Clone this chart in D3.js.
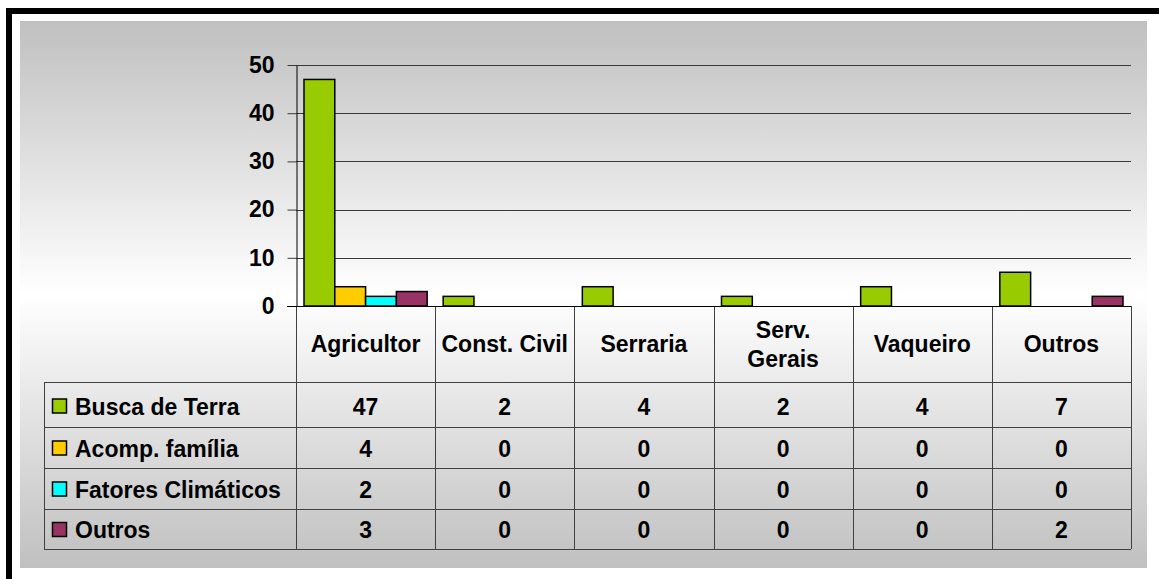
<!DOCTYPE html>
<html>
<head>
<meta charset="utf-8">
<script src="https://cdn.jsdelivr.net/npm/d3@7"></script>
<style>
  html, body { margin: 0; padding: 0; background: #fff; }
  svg text { font-family: "Liberation Sans", Arial, sans-serif; font-weight: bold; fill: #000; }
</style>
</head>
<body>
<div id="chart"></div>
<script>
// DATA ######################################################
const categories = ["Agricultor", "Const. Civil", "Serraria", "Serv.\nGerais", "Vaqueiro", "Outros"];
const seriesNames = ["Busca de Terra", "Acomp. família", "Fatores Climáticos", "Outros"];
const buscaTerra   = [47, 2, 4, 2, 4, 7];
const acompFamilia = [4, 0, 0, 0, 0, 0];
const fatoresClim  = [2, 0, 0, 0, 0, 0];
const outros       = [3, 0, 0, 0, 0, 2];
const seriesValues = [buscaTerra, acompFamilia, fatoresClim, outros];
const seriesColors = ["#99cc00", "#ffcc00", "#00ffff", "#993366"];
const yTicks = [0, 10, 20, 30, 40, 50];

// LAYOUT ####################################################
const width = 1159, height = 579;
const plotLeft = 296, plotRight = 1131;
const plotTop = 65, plotBottom = 306;
const tableLeft = 44;
const rowLines = [382, 427, 468, 509, 549];   // header bottom + row bottoms
const lineColor = "#404040";

const svg = d3.select("#chart").append("svg")
    .attr("width", width)
    .attr("height", height);

// background gradient
const defs = svg.append("defs");
const grad = defs.append("linearGradient")
    .attr("id", "bg")
    .attr("x1", 0).attr("y1", 0).attr("x2", 0).attr("y2", 1);
grad.append("stop").attr("offset", "0%").attr("stop-color", "#c0c0c0");
grad.append("stop").attr("offset", "50%").attr("stop-color", "#ffffff");
grad.append("stop").attr("offset", "100%").attr("stop-color", "#c0c0c0");

svg.append("rect")
    .attr("x", 20).attr("y", 21)
    .attr("width", 1127).attr("height", 547)
    .attr("fill", "url(#bg)");

// frame (top + left thick black)
svg.append("rect").attr("x", 6).attr("y", 8).attr("width", width - 6).attr("height", 6).attr("fill", "#000");
svg.append("rect").attr("x", 6).attr("y", 8).attr("width", 6).attr("height", height - 8).attr("fill", "#000");

// SCALES ====================================================
const x = d3.scaleBand()
    .domain(categories)
    .range([plotLeft, plotRight])
    .padding(0);

const xInner = d3.scaleBand()
    .domain(d3.range(seriesNames.length))
    .range([8, x.bandwidth() - 8])
    .padding(0);

const y = d3.scaleLinear()
    .domain([0, 50])
    .range([plotBottom, plotTop]);

// GRIDLINES -------------------------------------------------
svg.append("g")
  .selectAll("line")
  .data(yTicks.filter(d => d > 0))
  .join("line")
    .attr("x1", plotLeft).attr("x2", plotRight)
    .attr("y1", d => Math.round(y(d)) + 0.5)
    .attr("y2", d => Math.round(y(d)) + 0.5)
    .attr("stroke", "#3a3a3a")
    .attr("stroke-width", 1);

// Y AXIS ----------------------------------------------------
const yAxis = svg.append("g")
    .attr("transform", `translate(${plotLeft + 0.5},0)`)
    .call(d3.axisLeft(y).tickValues(yTicks).tickSize(9).tickSizeOuter(0).tickPadding(13));
yAxis.select(".domain").attr("stroke", "#000");
yAxis.selectAll(".tick line").attr("stroke", "#3a3a3a");
yAxis.selectAll(".tick text")
    .style("font-size", "23px")
    .attr("fill", "#000");

// BARS ======================================================
const groups = svg.append("g")
  .selectAll("g")
  .data(categories)
  .join("g")
    .attr("transform", d => `translate(${x(d)},0)`);

groups.selectAll("rect")
  .data((d, ci) => seriesValues.map((vals, si) => ({ si, v: vals[ci] })))
  .join("rect")
    .filter(d => d.v > 0)
    .attr("x", d => xInner(d.si))
    .attr("y", d => y(d.v))
    .attr("width", xInner.bandwidth())
    .attr("height", d => y(0) - y(d.v))
    .attr("fill", d => seriesColors[d.si])
    .attr("stroke", "#000")
    .attr("stroke-width", 1.5);

// DATA TABLE ================================================
const table = svg.append("g");

// row lines
table.selectAll("line.row")
  .data(rowLines)
  .join("line")
    .attr("class", "row")
    .attr("x1", (d, i) => i === 0 ? tableLeft : tableLeft)
    .attr("x2", plotRight)
    .attr("y1", d => d + 0.5).attr("y2", d => d + 0.5)
    .attr("stroke", lineColor);

// column lines
const colEdges = categories.map(c => x(c)).concat([plotRight]);
table.selectAll("line.col")
  .data(colEdges)
  .join("line")
    .attr("class", "col")
    .attr("x1", d => Math.round(d) + 0.5).attr("x2", d => Math.round(d) + 0.5)
    .attr("y1", plotBottom).attr("y2", rowLines[rowLines.length - 1])
    .attr("stroke", lineColor);

// left edge of legend column
table.append("line")
    .attr("x1", tableLeft + 0.5).attr("x2", tableLeft + 0.5)
    .attr("y1", rowLines[0]).attr("y2", rowLines[rowLines.length - 1])
    .attr("stroke", lineColor);

// baseline (category axis)
svg.append("line")
    .attr("x1", plotLeft - 9).attr("x2", plotRight)
    .attr("y1", y(0) + 0.5).attr("y2", y(0) + 0.5)
    .attr("stroke", "#000");

// category labels
const headerMid = (plotBottom + rowLines[0]) / 2;
svg.append("g")
  .selectAll("text")
  .data(categories)
  .join("text")
    .attr("text-anchor", "middle")
    .attr("x", d => x(d) + x.bandwidth() / 2)
    .style("font-size", "23px")
    .each(function(d) {
      const lines = d.split("\n");
      const t = d3.select(this);
      lines.forEach((ln, i) => {
        t.append("tspan")
          .attr("x", x(d) + x.bandwidth() / 2)
          .attr("y", headerMid + 8 + (i - (lines.length - 1) / 2) * 29)
          .text(ln);
      });
    });

// series rows
const rowMid = i => (rowLines[i] + rowLines[i + 1]) / 2 + (i === 0 ? 2 : 1);

const rows = svg.append("g")
  .selectAll("g")
  .data(seriesNames)
  .join("g");

rows.append("rect")
    .attr("x", 52.5)
    .attr("y", (d, i) => rowMid(i) - 7.5)
    .attr("width", 14).attr("height", 14)
    .attr("fill", (d, i) => seriesColors[i])
    .attr("stroke", "#000")
    .attr("stroke-width", 1.5);

rows.append("text")
    .attr("x", 75)
    .attr("y", (d, i) => rowMid(i) + 8)
    .style("font-size", "23px")
    .text(d => d);

rows.each(function(name, si) {
  d3.select(this).selectAll("text.val")
    .data(seriesValues[si])
    .join("text")
      .attr("class", "val")
      .attr("text-anchor", "middle")
      .attr("x", (v, ci) => x(categories[ci]) + x.bandwidth() / 2)
      .attr("y", rowMid(si) + 8)
      .style("font-size", "23px")
      .text(v => v);
});
</script>
</body>
</html>
